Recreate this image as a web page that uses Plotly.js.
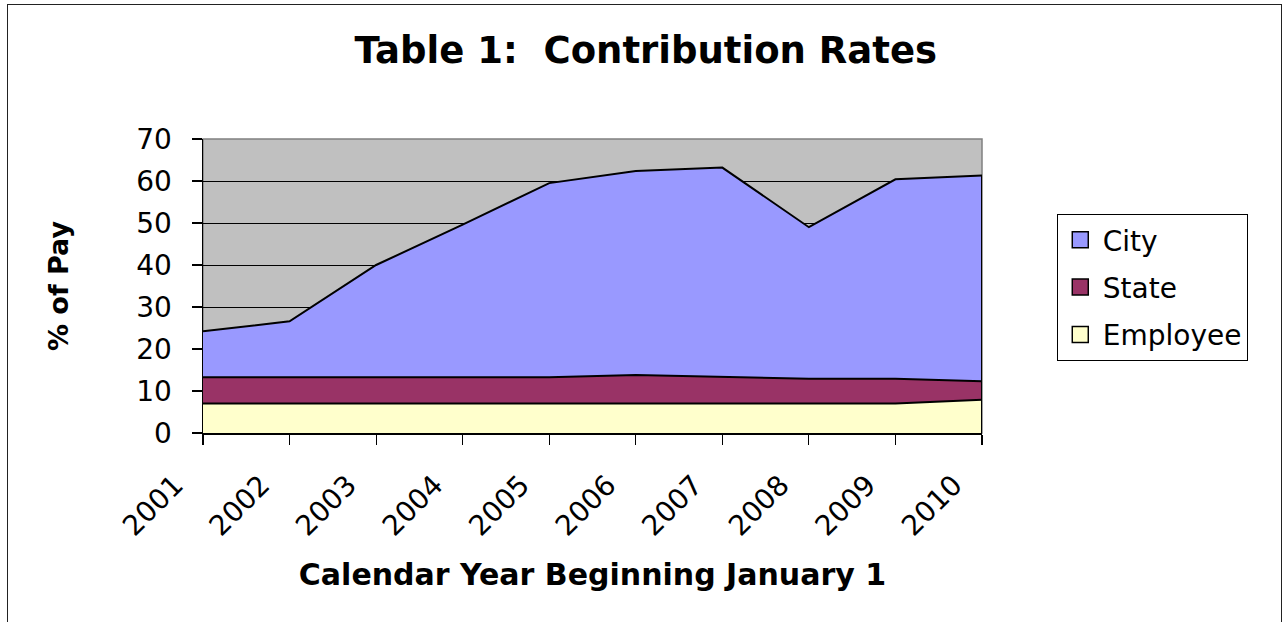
<!DOCTYPE html>
<html>
<head>
<meta charset="utf-8">
<script src="https://cdn.plot.ly/plotly-3.0.1.min.js"></script>
<style>
  html, body { margin: 0; padding: 0; background: #ffffff; overflow: hidden; }
  #chart { width: 1284px; height: 622px; position: absolute; left: 0; top: 0; }
  #frame { position: absolute; left: 7px; top: 4px; width: 1273px; height: 700px;
           border: 1.5px solid #222; pointer-events: none; }
</style>
</head>
<body>
<div id="chart"></div>
<div id="frame"></div>
<script>
// ---- data ----
const years    = [2001, 2002, 2003, 2004, 2005, 2006, 2007, 2008, 2009, 2010];
const employee = [7.0, 7.0, 7.0, 7.0, 7.0, 7.0, 7.0, 7.0, 7.0, 7.9];
const state    = [6.3, 6.3, 6.3, 6.3, 6.3, 6.8, 6.4, 5.9, 5.9, 4.4];
const city     = [10.9, 13.3, 26.7, 36.3, 46.2, 48.6, 49.8, 36.1, 47.5, 49.0];
const seriesNames = ["City", "State", "Employee"];
const yTicks = [0, 10, 20, 30, 40, 50, 60, 70];

const colors = { City: "#9999FF", State: "#993366", Employee: "#FFFFCC" };
const FONT = "DejaVu Sans, Verdana, Arial, sans-serif";

const lineStyle = { color: "#000000", width: 2 };

const traces = [
  { x: years, y: employee, name: "Employee", type: "scatter", mode: "lines",
    stackgroup: "one", fillcolor: colors.Employee, line: lineStyle, showlegend: false },
  { x: years, y: state, name: "State", type: "scatter", mode: "lines",
    stackgroup: "one", fillcolor: colors.State, line: lineStyle, showlegend: false },
  { x: years, y: city, name: "City", type: "scatter", mode: "lines",
    stackgroup: "one", fillcolor: colors.City, line: lineStyle, showlegend: false }
];

// right-hand edge outline of the stacked areas (from the data)
const last = years.length - 1;
const totalLast = employee[last] + state[last] + city[last];
traces.push({ x: [years[last], years[last]], y: [0, totalLast], type: "scatter", mode: "lines",
  line: { color: "#000000", width: 2 }, showlegend: false, hoverinfo: "skip" });

// legend entries (square swatches)
seriesNames.forEach((n, i) => {
  traces.push({ x: [null], y: [null], name: n, type: "scatter", mode: "markers",
    legendgroup: "g" + i,
    marker: { symbol: "square", size: 18, color: colors[n], line: { color: "#000000", width: 1.5 } },
    showlegend: true });
});

const layout = {
  width: 1284, height: 622,
  paper_bgcolor: "#ffffff",
  plot_bgcolor: "#C0C0C0",
  margin: { l: 203, r: 302, t: 139, b: 189 },
  font: { family: FONT, color: "#000000" },
  title: {
    text: "Table 1:  Contribution Rates",
    font: { family: FONT, size: 37, weight: "bold", color: "#000000" },
    x: 0.503, xref: "container", xanchor: "center",
    y: 0.92, yref: "container", yanchor: "middle"
  },
  xaxis: {
    range: [years[0], years[last]],
    tickmode: "array", tickvals: years, ticktext: years.map(String),
    tickangle: -45,
    tickfont: { family: FONT, size: 28, color: "#000000" },
    ticks: "outside", ticklen: 10, tickcolor: "#000000", tickwidth: 1.2,
    ticklabelstandoff: 13, ticklabelshift: -28,
    showline: true, linecolor: "#000000", linewidth: 1.5,
    showgrid: false, zeroline: false,
    title: { text: "Calendar Year Beginning January 1",
             font: { family: FONT, size: 30, weight: "bold", color: "#000000" }, standoff: 22 }
  },
  yaxis: {
    range: [0, 70],
    tickmode: "array", tickvals: yTicks, ticktext: yTicks.map(String),
    tickfont: { family: FONT, size: 28, color: "#000000" },
    ticks: "outside", ticklen: 10, tickcolor: "#000000", tickwidth: 1.2,
    ticklabelstandoff: 14,
    showline: true, linecolor: "#000000", linewidth: 1.5,
    showgrid: true, gridcolor: "#000000", gridwidth: 1,
    zeroline: false,
    title: { text: "% of Pay",
             font: { family: FONT, size: 27, weight: "bold", color: "#000000" }, standoff: 60 }
  },
  shapes: [
    { type: "rect", xref: "paper", yref: "paper", x0: 0, x1: 1, y0: 0, y1: 1,
      line: { color: "#808080", width: 1.5 }, layer: "below" }
  ],
  legend: {
    x: 1.096, xanchor: "left", y: 0.745, yanchor: "top",
    bordercolor: "#000000", borderwidth: 1, bgcolor: "#ffffff",
    font: { family: FONT, size: 28, color: "#000000" },
    tracegroupgap: 8, traceorder: "grouped", itemwidth: 35
  },
  showlegend: true
};

Plotly.newPlot("chart", traces, layout, { displayModeBar: false, staticPlot: true });
</script>
</body>
</html>
